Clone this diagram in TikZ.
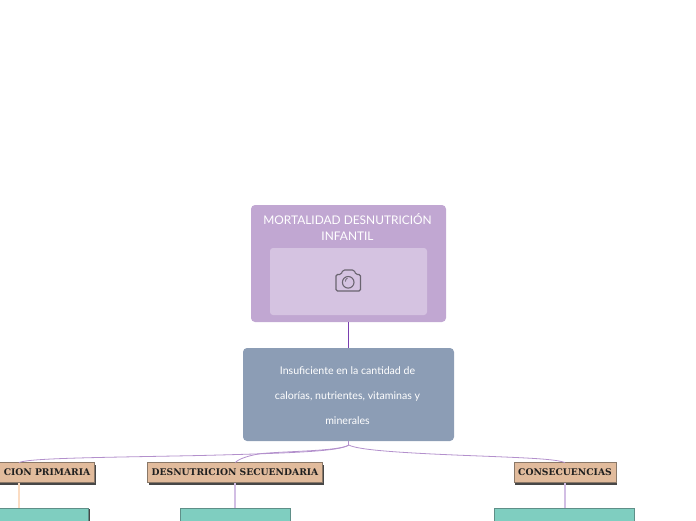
\documentclass[tikz,border=0pt]{standalone}
\usepackage{fontspec}
\setmainfont{Lato}
\newfontfamily\slabfont{DejaVu Serif}
\definecolor{topfill}{HTML}{C1A7D2}
\definecolor{picfill}{HTML}{D5C3E1}
\definecolor{midfill}{HTML}{8C9DB5}
\definecolor{catfill}{HTML}{E1BB9C}
\definecolor{catedge}{HTML}{8A7868}
\definecolor{tealfill}{HTML}{7FCEC0}
\definecolor{tealedge}{HTML}{5F8F88}
\definecolor{linkc}{HTML}{B390CC}
\definecolor{camc}{HTML}{6A6470}
\definecolor{darkv}{HTML}{7A3FB0}
\definecolor{peach}{HTML}{FBDCC2}
\definecolor{palev}{HTML}{D2BEE4}
\begin{document}
\begin{tikzpicture}[x=1pt,y=-1pt,
  topbox/.style={fill=topfill,rounded corners=4pt,draw=none},
  picbox/.style={fill=picfill,rounded corners=3pt,draw=none},
  midbox/.style={fill=midfill,rounded corners=4pt,draw=none},
  catfont/.style={font=\slabfont\bfseries\fontsize{9.2}{10}\selectfont,text=black!88},
  catbox/.style={fill=catfill,draw=catedge,line width=.7pt,minimum height=20pt,inner sep=0pt,catfont},
  tealbox/.style={fill=tealfill,draw=tealedge,line width=.7pt},
  link/.style={draw=linkc,line width=.8pt},
  offshadow/.style={fill=black!72,draw=none}]
\useasboundingbox (0,0) rectangle (696,520);
\clip (0,0) rectangle (696,520);
% main boxes
\path[topbox] (251,205) rectangle (446,322);
\path[picbox] (270,248) rectangle (427,315);
\node[text=white,font=\fontsize{11.9}{16}\selectfont,align=center] (title) at (347.5,226.8) {MORTALIDAD DESNUTRICIÓN\\INFANTIL};
\path[midbox] (243,348) rectangle (454,441);
\node[text=white,font=\fontsize{10.6}{25}\selectfont,align=center] (midt) at (347.5,395.5) {Insuficiente en la cantidad de\\calorías, nutrientes, vitaminas y\\minerales};
\coordinate (topbot) at (348.8,322);
\coordinate (midtop) at (348.8,348);
\coordinate (midbot) at (348.8,441);
\coordinate (hub) at (348.8,445);
% camera
\draw[camc,line width=1.1pt,rounded corners=1.5pt] (336,274.5) -- (341,274.5) -- (343,270) -- (354,270) -- (356,274.5) -- (360.5,274.5) -- (360.5,291) -- (336,291) -- cycle;
\draw[camc,line width=1.1pt] (348.2,282.3) circle (5.8pt);
\draw[camc,line width=.8pt] (345.5,281.5) arc (190:110:3pt);
% category boxes
\fill[offshadow] (-10,465) rectangle (96,485);
\node[catbox,minimum width=106pt] (primaria) at (41,472.5) {};
\node[catfont,anchor=east,inner xsep=0pt] (ptext) at (90.5,472.5) {CION PRIMARIA};
\fill[offshadow] (149,465) rectangle (324,485);
\node[catbox,minimum width=175pt] (secund) at (235,472.5) {DESNUTRICION SECUENDARIA};
\fill[offshadow] (515,465) rectangle (617,485);
\node[catbox,minimum width=102pt] (conse) at (565,472.5) {CONSECUENCIAS};
% teal boxes
\fill[offshadow] (-10,509) rectangle (90,530);
\node[tealbox,minimum width=100pt,minimum height=30pt,inner sep=0pt,anchor=north west] (t1) at (-12,507.5) {};
\fill[offshadow] (181,509) rectangle (291,530);
\node[tealbox,minimum width=110pt,minimum height=30pt,inner sep=0pt,anchor=north west] (t2) at (179.5,507.5) {};
\fill[offshadow] (495,509) rectangle (635,530);
\node[tealbox,minimum width=140pt,minimum height=30pt,inner sep=0pt,anchor=north west] (t3) at (494,507.5) {};
% connectors
\draw[darkv,line width=1.3pt] (topbot) -- (midtop);
\draw[link] (midbot) -- (hub);
\draw[link] (hub) .. controls (340,451) and (300,453) .. (200,455.5) .. controls (100,457.5) and (30,458) .. (19,462.5);
\draw[link] (hub) .. controls (340,451) and (290,451) .. (262,453.5) .. controls (250,455) and (238,459) .. (235.5,462.5);
\draw[link] (hub) .. controls (358,450) and (400,453) .. (480,456) .. controls (530,458) and (555,459) .. (565,462.5);
\draw[peach,line width=1.5pt] (primaria.south -| 19,0) -- (t1.north -| 19,0);
\draw[palev,line width=1.2pt] (secund.south) -- (t2.north -| secund.south);
\draw[palev,line width=1.2pt] (conse.south) -- (t3.north -| conse.south);
\end{tikzpicture}
\end{document}
